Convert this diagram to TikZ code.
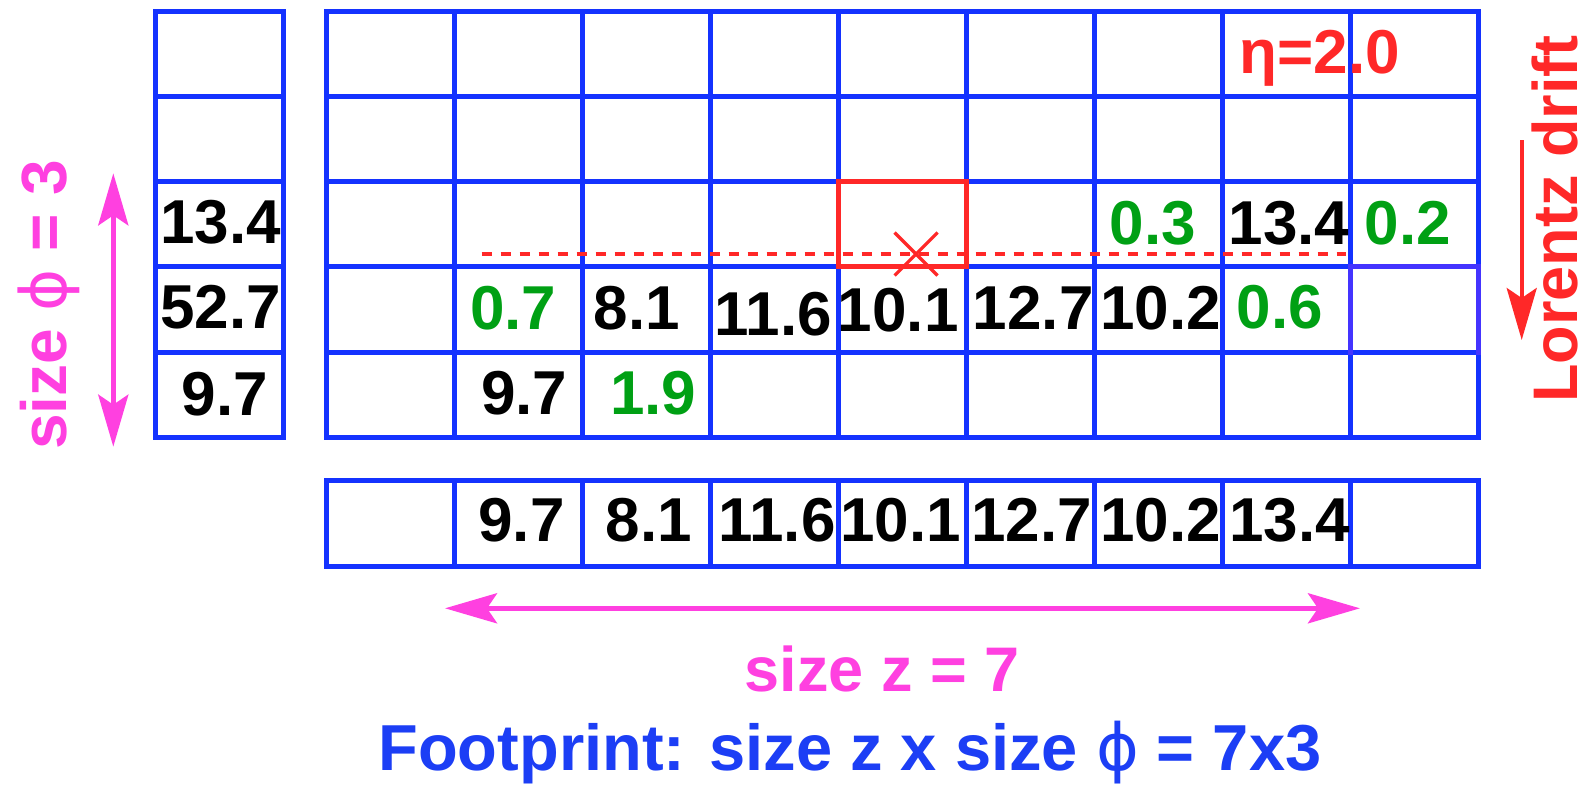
\documentclass[tikz,border=0pt]{standalone}
\usepackage{fontspec}
\setmainfont{Liberation Sans}
\newfontfamily\phifont{DejaVu Sans}
\usetikzlibrary{arrows.meta}
\definecolor{gridblue}{RGB}{20,50,255}
\definecolor{cellpurple}{RGB}{68,52,255}
\definecolor{footblue}{RGB}{28,62,245}
\definecolor{lmag}{RGB}{255,64,224}
\definecolor{lred}{RGB}{255,40,40}
\definecolor{lgreen}{RGB}{0,160,20}
\newcommand{\myphi}{{\phifont\mdseries\char"03D5}}
\begin{document}
\begin{tikzpicture}[x=0.5pt,y=-0.5pt,
  gridline/.style={draw=gridblue,line width=2.5pt,line cap=rect},
  num/.style={font=\fontsize{31}{31}\selectfont\bfseries,inner sep=0pt,anchor=base,text=black},
  gnum/.style={num,text=lgreen},
  bigtext/.style={font=\fontsize{#1}{#1}\selectfont\bfseries,inner sep=0pt,anchor=base,text depth=0pt},
  headtip/.tip={Stealth[length=26pt,width=15pt,inset=5pt]},
  magarrow/.style={draw=lmag,line width=2.5pt,{headtip}-{headtip}},
  redarrow/.style={draw=lred,line width=2pt,-{headtip}}]
\useasboundingbox (0,0) rectangle (1589,787);

% main grid 9 x 5
\foreach \i in {0,...,9}
  \draw[gridline] ({326.7+128*\i},11.3) -- ({326.7+128*\i},437.3);
\foreach \j in {0,...,5}
  \draw[gridline] (326.7,{11.3+85.2*\j}) -- (1478.7,{11.3+85.2*\j});
% slightly purple cell
\draw[draw=cellpurple,line width=2.5pt,line cap=rect] (1350.7,352.1) -- (1350.7,266.9) -- (1478.7,266.9) -- (1478.7,352.1);

% left column
\foreach \j in {0,...,5}
  \draw[gridline] (155.6,{11.3+85.2*\j}) -- (283.6,{11.3+85.2*\j});
\draw[gridline] (155.6,11.3) -- (155.6,437.3);
\draw[gridline] (283.6,11.3) -- (283.6,437.3);

% bottom row
\draw[gridline] (326.7,480.7) -- (1478.7,480.7);
\draw[gridline] (326.7,566) -- (1478.7,566);
\foreach \i in {0,...,9}
  \draw[gridline] ({326.7+128*\i},480.7) -- ({326.7+128*\i},566);

% dashed line, red box, cross
\coordinate (dashL) at (481.7,254);
\coordinate (dashR) at (1346,254);
\draw[draw=lred,line width=2pt,dash pattern=on 5pt off 4.5pt] (dashL) -- (dashR);
\draw[draw=lred,line width=2.5pt] (838.7,181.7) rectangle (966.7,266.9);
\coordinate (cross) at (916,254);
\draw[draw=lred,line width=1.6pt] ([shift={(-21.5,-21.5)}]cross) -- ([shift={(21.5,21.5)}]cross);
\draw[draw=lred,line width=1.6pt] ([shift={(-21.5,21.5)}]cross) -- ([shift={(21.5,-21.5)}]cross);

% left column numbers
\node[num] (l3) at (220.8,243) {13.4};
\node[num] (l4) at (220.8,328.3) {52.7};
\node[num] (l5) at (224.8,415) {9.7};

% main grid numbers
\node[gnum] (m36) at (1153,244) {0.3};
\node[num]  (m37) at (1289,244) {13.4};
\node[gnum] (m38) at (1408,244) {0.2};
\node[gnum] (m41) at (513.3,329) {0.7};
\node[num]  (m42) at (636.7,329) {8.1};
\node[num]  (m43) at (773.3,335) {11.6};
\node[num]  (m44) at (898.3,331.7) {10.1};
\node[num]  (m45) at (1033.3,329) {12.7};
\node[num]  (m46) at (1160.8,329) {10.2};
\node[gnum] (m47) at (1280,328.3) {0.6};
\node[num]  (m51) at (524.2,414) {9.7};
\node[gnum] (m52) at (653.3,414) {1.9};

% bottom row numbers
\node[num] (b1) at (521.5,541.7) {9.7};
\node[num] (b2) at (649,541.7) {8.1};
\node[num] (b3) at (777,541.7) {11.6};
\node[num] (b4) at (900.5,541.7) {10.1};
\node[num] (b5) at (1031.5,541.7) {12.7};
\node[num] (b6) at (1160.5,541.7) {10.2};
\node[num] (b7) at (1289.5,541.7) {13.4};

% eta label
\node[bigtext=31,text=lred] (eta) at (1320,73.3) {η=2.0};

% Lorentz drift
\coordinate (lorA) at (1521.7,140);
\coordinate (lorB) at (1521.7,340);
\draw[redarrow] (lorA) -- (lorB);
\node[bigtext=31.5,text=lred,rotate=90] (lorentz) at (1577,219) {Lorentz drift};

% size phi
\coordinate (phiT) at (113.3,173.3);
\coordinate (phiB) at (113.3,446.7);
\draw[magarrow] (phiB) -- (phiT);
\node[bigtext=32,text=lmag,rotate=90] (sizephi) at (66,305) {size \myphi{} = 3};

% size z
\coordinate (zL) at (445,608.3);
\coordinate (zR) at (1360,608.3);
\draw[magarrow] (zL) -- (zR);
\node[bigtext=31.5,text=lmag] (sizez) at (882,691.7) {size z = 7};

% footprint
\node[bigtext=32.5,text=footblue] (foot) at (850,770.5) {Footprint: size z x size \myphi{} = 7x3};
\end{tikzpicture}
\end{document}
